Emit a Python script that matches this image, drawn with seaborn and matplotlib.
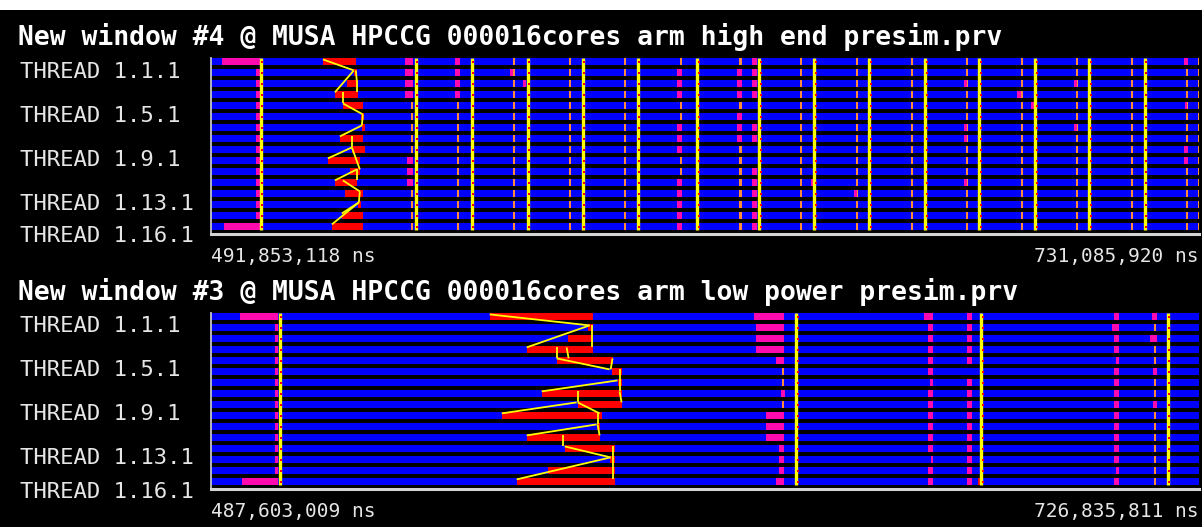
import matplotlib
matplotlib.use("Agg")
import matplotlib.pyplot as plt
from matplotlib.patches import Rectangle
from matplotlib.transforms import blended_transform_factory
import pandas as pd
import seaborn as sns

# ---------------------------------------------------------------------------
# Trace windows (times of states/messages are in ms from the window begin)
# ---------------------------------------------------------------------------
titles = ["New window #4 @ MUSA HPCCG 000016cores arm high end presim.prv",
          "New window #3 @ MUSA HPCCG 000016cores arm low power presim.prv"]
begin_ns = [491_853_118, 487_603_009]
end_ns = [731_085_920, 726_835_811]
threads = [f"THREAD 1.{i}.1" for i in range(1, 17)]
labeled_threads = [1, 5, 9, 13, 16]

# --- high end window ---
he_sync_ms = [12.09, 49.59, 63.13, 76.68, 89.98, 103.29, 117.80, 132.80,
              146.10, 159.41, 172.95, 186.01, 199.56, 212.62, 226.17]
he_group_ms = [48.38, 59.50, 73.05, 86.60, 99.90, 113.45, 127.96, 142.72,
               156.26, 169.56, 182.87, 196.17, 209.48, 222.78, 236.09, 238.99]
he_wait = [(1, 27.09, 35.07), (2, 34.59, 35.32), (3, 32.90, 35.56), (4, 29.99, 35.56),
           (5, 31.93, 36.77), (6, 36.28, 37.01), (7, 36.53, 37.25), (8, 31.20, 36.77),
           (9, 34.11, 37.25), (10, 28.30, 36.04), (11, 33.62, 36.04), (12, 29.99, 35.32),
           (13, 32.41, 36.77), (14, 35.56, 36.28), (15, 31.69, 36.77), (16, 29.27, 36.77)]
he_send = [(1, 2.66, 11.85), (2, 10.89, 11.85), (3, 10.89, 11.85), (4, 10.89, 11.85),
           (5, 10.89, 11.85), (6, 10.89, 11.85), (7, 10.89, 11.85), (8, 10.89, 11.85),
           (9, 10.89, 11.85), (10, 10.89, 11.85), (11, 10.89, 11.85), (12, 10.89, 11.85),
           (13, 10.89, 11.85), (14, 10.89, 11.85), (15, 10.89, 11.85), (16, 3.14, 11.85),
           (1, 46.93, 48.86), (2, 46.93, 48.86), (3, 46.93, 48.86), (4, 46.93, 48.86),
           (10, 47.41, 48.86), (11, 47.41, 48.86), (12, 47.41, 48.86),
           (1, 59.02, 60.23), (2, 59.02, 60.23), (3, 59.02, 60.23), (4, 59.02, 60.23),
           (2, 72.33, 73.05), (3, 75.47, 76.20),
           (2, 112.72, 113.93), (3, 112.72, 113.93), (4, 112.72, 113.93),
           (7, 112.72, 113.93), (8, 112.72, 113.93), (9, 112.72, 113.93),
           (12, 112.72, 113.93), (13, 112.72, 113.93), (14, 112.72, 113.93),
           (15, 112.72, 113.93), (16, 112.72, 113.93),
           (2, 127.48, 128.69), (3, 127.48, 128.69), (4, 127.48, 128.69),
           (6, 127.48, 128.69), (7, 127.48, 128.69), (8, 127.48, 128.69),
           (1, 131.10, 132.31), (2, 131.10, 132.31), (3, 131.10, 132.31),
           (4, 131.10, 132.31), (7, 131.10, 132.31), (8, 131.10, 132.31),
           (11, 131.10, 132.31), (12, 131.10, 132.31), (13, 131.10, 132.31),
           (14, 131.10, 132.31), (15, 131.10, 132.31), (16, 131.10, 132.31),
           (12, 145.38, 146.10), (13, 155.78, 156.50),
           (3, 182.38, 183.11), (7, 182.38, 183.11), (8, 182.38, 183.11), (12, 182.38, 183.11),
           (4, 195.21, 196.17), (5, 198.59, 199.32),
           (3, 208.99, 209.72), (7, 208.99, 209.72),
           (1, 235.60, 236.60), (5, 235.84, 236.33), (9, 235.60, 236.60), (10, 235.60, 236.60)]
he_msgs = [(1, 27.09, 2, 34.59), (4, 29.99, 2, 34.59), (2, 35.07, 3, 35.32),
           (3, 35.32, 4, 35.32), (4, 31.93, 5, 31.93), (5, 31.93, 6, 36.77),
           (6, 36.77, 7, 36.53), (8, 31.20, 7, 36.53), (8, 34.11, 9, 34.11),
           (10, 28.30, 9, 34.11), (9, 34.11, 11, 36.04), (11, 35.32, 12, 35.32),
           (12, 29.99, 11, 35.32), (12, 31.93, 13, 36.04), (13, 36.04, 14, 35.80),
           (16, 29.27, 14, 35.80), (15, 31.69, 14, 35.80)]

# --- low power window ---
lp_sync_ms = [16.69, 141.75, 186.50, 231.73]
lp_group_ms = [138.36, 228.34]
lp_wait = [(1, 67.49, 92.40), (2, 91.19, 92.40), (3, 86.35, 92.40), (4, 76.44, 92.40),
           (5, 83.69, 97.24), (6, 97.00, 99.42), (7, 98.45, 99.42), (8, 80.07, 99.42),
           (9, 88.77, 99.42), (10, 70.39, 94.58), (11, 93.37, 94.10), (12, 76.44, 94.10),
           (13, 85.63, 97.72), (14, 96.51, 97.72), (15, 81.52, 97.72), (16, 74.02, 97.72),
           (16, 185.77, 186.98)]
lp_send = [(1, 7.01, 16.21), (2, 15.48, 16.21), (3, 15.48, 16.21), (4, 15.48, 16.21),
           (5, 15.48, 16.21), (6, 15.48, 16.21), (7, 15.48, 16.21), (8, 15.48, 16.21),
           (9, 15.48, 16.21), (10, 15.48, 16.21), (11, 15.48, 16.21), (12, 15.48, 16.21),
           (13, 15.48, 16.21), (14, 15.48, 16.21), (15, 15.48, 16.21), (16, 7.50, 16.21),
           (1, 131.59, 138.84), (2, 132.07, 138.84), (3, 132.07, 138.84), (4, 132.07, 138.84),
           (5, 136.91, 138.84), (8, 138.12, 139.09), (10, 134.49, 138.84),
           (11, 134.49, 138.84), (12, 134.49, 138.84), (13, 137.63, 138.84),
           (14, 137.63, 138.84), (15, 137.63, 138.84), (16, 136.91, 138.84),
           (1, 172.71, 174.89), (2, 173.68, 174.89), (3, 173.68, 174.89), (4, 173.68, 174.89),
           (5, 173.68, 174.89), (6, 173.68, 174.89), (7, 174.10, 174.89), (8, 173.68, 174.89),
           (9, 173.68, 174.89), (10, 173.68, 174.89), (11, 173.68, 174.89),
           (12, 173.68, 174.89), (13, 173.68, 174.89), (14, 174.30, 174.89),
           (15, 173.68, 174.89), (16, 173.68, 174.89),
           (1, 183.11, 184.32), (2, 183.11, 184.32), (3, 183.11, 184.32), (4, 183.11, 184.32),
           (5, 183.11, 184.32), (7, 183.11, 184.32), (8, 183.11, 184.32), (9, 183.11, 184.32),
           (10, 183.11, 184.32), (11, 183.11, 184.32), (12, 183.11, 184.32),
           (13, 183.11, 184.32), (14, 183.11, 184.32), (15, 183.11, 184.32), (16, 183.11, 184.32),
           (1, 218.67, 219.88), (2, 218.19, 219.88), (3, 218.67, 219.88), (4, 218.67, 219.88),
           (5, 219.10, 219.88), (6, 218.67, 219.88), (7, 218.67, 219.88), (8, 218.67, 219.88),
           (9, 218.67, 219.88), (10, 218.67, 219.88), (11, 218.67, 219.88),
           (12, 218.67, 219.88), (13, 218.67, 219.88), (14, 218.67, 219.88),
           (15, 219.10, 219.88), (16, 218.67, 219.88),
           (1, 227.86, 229.07), (3, 227.37, 229.07), (6, 228.10, 229.07), (9, 228.10, 229.07)]
lp_msgs = [(1, 67.49, 2, 91.68), (4, 76.44, 2, 91.68), (2, 92.16, 3, 92.16),
           (3, 92.16, 4, 92.16), (4, 83.69, 5, 83.69), (4, 86.11, 5, 86.60),
           (5, 83.69, 6, 96.51), (5, 97.24, 6, 96.76), (8, 80.07, 7, 98.45),
           (6, 98.93, 7, 98.93), (7, 98.93, 8, 98.93), (8, 98.93, 9, 99.42),
           (8, 88.77, 9, 88.77), (10, 70.39, 9, 88.53), (9, 88.77, 10, 94.10),
           (10, 93.61, 11, 93.61), (11, 93.61, 12, 94.10), (12, 76.44, 11, 93.37),
           (12, 85.15, 13, 85.15), (13, 85.63, 14, 96.76), (13, 97.24, 14, 97.24),
           (14, 97.24, 15, 97.24), (15, 97.24, 16, 97.24), (16, 74.02, 14, 96.76)]

# Paraver state colours
RUNNING = "#0000ff"
WAITING = "#ff0000"
SEND = "#ff0aae"
GROUP = "#ff8a3a"
COMM = "#ffff00"

# ---------------------------------------------------------------------------
sns.set_theme(style="dark", rc={"figure.facecolor": "black", "axes.facecolor": "black",
                                "savefig.facecolor": "black"})
plt.rcParams["font.family"] = ["DejaVu Sans Mono", "DejaVu Sans"]

W, H = 1202, 527
fig = plt.figure(figsize=(W / 100, H / 100), dpi=100)
fig.patch.set_facecolor("black")
fig.patches.append(Rectangle((0, 1 - 10 / H), 1, 10 / H, transform=fig.transFigure,
                             facecolor="white", edgecolor="none", zorder=0))

BAND = 0.61
PITCH_PX = 11.0


def fy(px):
    """Figure fraction from a pixel row measured from the top."""
    return 1 - px / H


def draw_window(top_px, title, t0, t1, syncs, groups, waits, sends, msgs):
    span = (t1 - t0) / 1e6
    ax_top = top_px - 0.05 * PITCH_PX
    ax_bot = top_px + 16.0 * PITCH_PX
    left, right = 211, 1199
    ax = fig.add_axes([left / W, fy(ax_bot), (right - left) / W, (ax_bot - ax_top) / H])
    ax.set_facecolor("black")
    ax.set_xlim(0, span)
    ax.set_ylim(16.0, -0.05)

    rows = list(range(1, 17))
    # running background of every thread
    ax.barh([r - 1 + BAND / 2 for r in rows], [span] * 16, left=0, height=BAND,
            color=RUNNING, linewidth=0, zorder=1)
    for r, a, b in waits:
        ax.barh(r - 1 + BAND / 2, b - a, left=a, height=BAND, color=WAITING, linewidth=0, zorder=2)
    for g in groups:
        ax.barh([r - 1 + BAND / 2 for r in rows], [0.5] * 16, left=g, height=BAND,
                color=GROUP, linewidth=0, zorder=2)
    for r, a, b in sends:
        ax.barh(r - 1 + BAND / 2, b - a, left=a, height=BAND, color=SEND, linewidth=0, zorder=2.5)

    # point-to-point messages
    for r0, a, r1, b in msgs:
        ax.plot([a, b], [r0 - 1 + 0.1, r1 - 1 + 0.1], color=COMM, lw=1.3,
                solid_capstyle="butt", zorder=3)
    # collective synchronisation lines with their receive flags
    dots = []
    for s in syncs:
        ax.plot([s, s], [0, 15 + BAND], color=COMM, lw=2.4, solid_capstyle="butt", zorder=3)
        dots += [{"t": s + 0.35, "row": r - 1 + BAND / 2} for r in rows]
    dots = pd.DataFrame(dots)
    sns.scatterplot(data=dots, x="t", y="row", ax=ax, marker="s", s=3, color=WAITING,
                    linewidth=0, zorder=4, legend=False)

    ax.set_xlabel("")
    ax.set_ylabel("")
    ax.set_xticks([])
    ax.set_yticks([])
    for side in ("top", "right"):
        ax.spines[side].set_visible(False)
    ax.spines["left"].set_color("#c4c4c4")
    ax.spines["left"].set_linewidth(1.3)
    ax.spines["bottom"].set_color("#d4d4d4")
    ax.spines["bottom"].set_linewidth(2.2)
    for sp in ax.spines.values():
        sp.set_zorder(6)

    # window title
    fig.text(18 / W, fy(top_px - 13.5), title, ha="left", va="baseline", color="white",
             fontsize=19, fontweight="bold", family=["DejaVu Sans Mono"])
    # thread labels
    tr = blended_transform_factory(fig.transFigure, ax.transData)
    for r in labeled_threads:
        ax.text(20 / W, r - 1 + 1.2, threads[r - 1], transform=tr, ha="left", va="center",
                color="#e6e6e6", fontsize=16, family=["DejaVu Sans Mono"], clip_on=False)
    # window begin / end times
    tick_y = fy(ax_bot + 22.5)
    fig.text(left / W, tick_y, f"{t0:,} ns", ha="left", va="center", color="#e6e6e6",
             fontsize=14, family=["DejaVu Sans Mono"])
    fig.text(1199 / W, tick_y, f"{t1:,} ns", ha="right", va="center", color="#e6e6e6",
             fontsize=14, family=["DejaVu Sans Mono"])
    return ax


draw_window(58.3, titles[0], begin_ns[0], end_ns[0], he_sync_ms, he_group_ms,
            he_wait, he_send, he_msgs)
draw_window(313.3, titles[1], begin_ns[1], end_ns[1], lp_sync_ms, lp_group_ms,
            lp_wait, lp_send, lp_msgs)

fig.savefig("out.png", dpi=100, facecolor="black")
